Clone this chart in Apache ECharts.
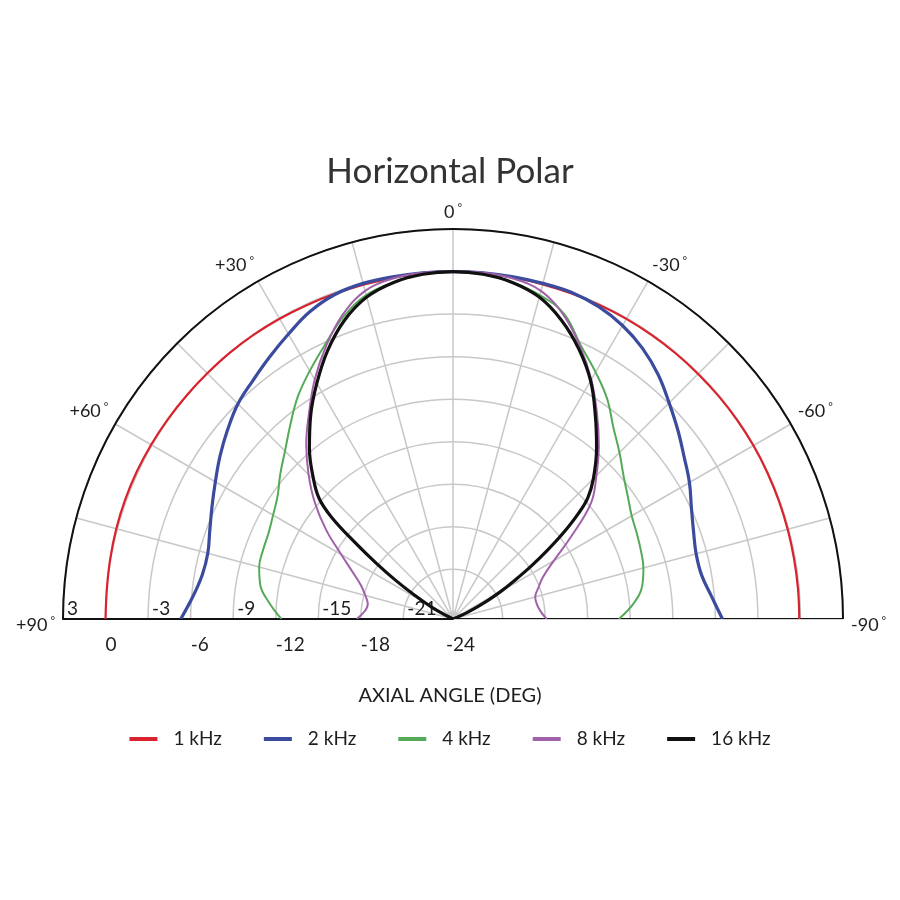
<!DOCTYPE html>
<html><head><meta charset="utf-8">
<script src="https://cdn.jsdelivr.net/npm/echarts@6/dist/echarts.min.js"></script>
<style>html,body{margin:0;padding:0;background:#fff}#c{width:900px;height:900px}</style>
</head><body><div id="c"></div>
<script>
// ---------- data ----------
const TITLE = 'Horizontal Polar';
const AXIS_TITLE = 'AXIAL ANGLE (DEG)';
const SERIES_NAMES = ['1 kHz', '2 kHz', '4 kHz', '8 kHz', '16 kHz'];
const SERIES_COLORS = ['#d8232c', '#3b4b9e', '#55aa58', '#a061a8', '#111111'];
const SERIES_WIDTHS = [2.2, 3.2, 2, 2, 3.2];
const RADIUS_MIN = -24.5, RADIUS_MAX = 3;
const ANGLE_STEP = 15;

// reference angle in degrees (+ = left side, - = right side)
const ANGLES = [90, 85, 80, 75, 70, 65, 60, 55, 50, 45, 40, 35, 30, 25, 20, 15, 10, 5, 0,
  -5, -10, -15, -20, -25, -30, -35, -40, -45, -50, -55, -60, -65, -70, -75, -80, -85, -90];
const DB_1K = [0, 0, 0.04, 0.08, 0.1, 0.1, 0.08, 0.05, 0.02, 0, 0, -0.02, -0.05, -0.08, -0.1, -0.1, -0.07, -0.02, 0,
  -0.02, -0.05, -0.07, -0.07, -0.07, -0.06, -0.06, -0.06, -0.06, -0.05, -0.04, -0.04, -0.05, -0.06, -0.07, -0.08, -0.08, -0.08];
const DB_2K = [-5.3, -6.1, -6.55, -6.6, -6.25, -5.75, -5.15, -4.45, -3.75, -3.05, -2.55, -1.95, -1.3, -0.6, -0.15, 0, 0, 0, 0,
  0, 0, 0, 0, -0.2, -0.6, -1.2, -2.0, -2.95, -3.8, -4.6, -5.25, -5.95, -6.45, -6.75, -6.7, -6.2, -5.5];
const DB_4K = [-12.4, -11.5, -10.7, -10.35, -10.25, -10.15, -9.85, -9.4, -8.6, -7.75, -6.65, -5.4, -4.3, -3.15, -1.85, -0.85, -0.4, -0.1, 0,
  -0.1, -0.4, -0.85, -1.6, -3.2, -4.4, -5.55, -6.9, -7.9, -8.8, -9.45, -9.95, -10.2, -10.4, -10.6, -10.95, -11.7, -12.8];
const DB_8K = [-17.7, -18.25, -18.4, -18.1, -17.6, -16.7, -15.4, -13.6, -11.8, -10.1, -8.4, -6.8, -5.0, -3.3, -1.7, -0.55, -0.12, 0, 0,
  0, -0.12, -0.55, -1.7, -3.3, -5.0, -6.8, -8.5, -10.2, -11.8, -14.3, -16.3, -17.5, -18.1, -18.5, -18.5, -18.3, -17.9];
const ANGLES_16K = [65, 61, 58, 56, 54, 52, 50, 48, 45, 40, 35, 30, 25, 20, 15, 10, 5, 0,
  -5, -10, -15, -20, -25, -30, -35, -40, -45, -48, -50, -52, -54, -56, -58, -60, -62, -65, -68];
const DB_16K = [-24.5, -22.8, -21.2, -19.6, -17.8, -15.7, -13.3, -11.8, -10.6, -8.75, -7.0, -5.3, -3.6, -2.1, -1.0, -0.4, -0.1, 0,
  -0.1, -0.4, -1.0, -2.1, -3.5, -5.1, -7.0, -8.75, -10.5, -11.7, -13.0, -14.6, -16.3, -17.9, -19.4, -20.6, -21.8, -23.3, -24.5];

const SERIES_ANGLES = [ANGLES, ANGLES, ANGLES, ANGLES, ANGLES_16K];
const SERIES_DB = [DB_1K, DB_2K, DB_4K, DB_8K, DB_16K];

// ---------- chart ----------
const FONT = 'Lato';
const TXT = '#1e1e1e';
const chart = echarts.init(document.getElementById('c'), null, {renderer: 'canvas'});

// angle axis runs left (+90) -> right (-90); its value is the negated reference angle
const toAxisAngle = a => -a;

const curveSeries = SERIES_NAMES.map((name, k) => ({
  name: name,
  type: 'line',
  coordinateSystem: 'polar',
  showSymbol: false,
  symbol: 'none',
  smooth: 0.4,
  z: 3,
  lineStyle: {color: SERIES_COLORS[k], width: SERIES_WIDTHS[k]},
  itemStyle: {color: SERIES_COLORS[k]},
  data: SERIES_ANGLES[k].map((a, i) => [SERIES_DB[k][i], toAxisAngle(a)])
}));

const baseline = {
  name: '_baseline',
  type: 'line',
  coordinateSystem: 'polar',
  symbol: 'none',
  z: 2,
  silent: true,
  lineStyle: {color: '#111', width: 2},
  data: [[RADIUS_MAX, toAxisAngle(90)], [RADIUS_MIN, 0], [RADIUS_MAX, toAxisAngle(-90)]]
};

const option = {
  animation: false,
  backgroundColor: '#fff',
  title: [
    {text: TITLE, left: 'center', top: 146,
     textStyle: {fontFamily: FONT, fontSize: 35, fontWeight: 'normal', color: '#333', lineHeight: 42}},
    {text: AXIS_TITLE, left: 'center', top: 679,
     textStyle: {fontFamily: FONT, fontSize: 20, fontWeight: 'normal', color: TXT, lineHeight: 24}}
  ],
  legend: {
    data: SERIES_NAMES,
    left: 'center',
    top: 723,
    icon: 'rect',
    itemWidth: 28,
    itemHeight: 4,
    itemGap: 42,
    textStyle: {fontFamily: FONT, fontSize: 19, color: TXT, padding: [0, 0, 0, 11], lineHeight: 22}
  },
  polar: {center: [453, 619], radius: 390},
  angleAxis: {
    type: 'value',
    min: -90, max: 90, interval: ANGLE_STEP,
    startAngle: 180, endAngle: 0,
    axisLine: {show: true, lineStyle: {color: '#111', width: 2}},
    axisTick: {show: false},
    splitLine: {show: true, lineStyle: {color: '#c8c8c8', width: 1.5}},
    axisLabel: {
      margin: 8,
      fontFamily: FONT, fontSize: 18, color: TXT,
      formatter: v => {
        const a = -v;
        if (a % 30 !== 0) return '';
        const t = a > 0 ? '+' + a : String(a);
        const low = Math.abs(a) === 90;
        return '{' + (low ? 'w' : 'v') + '|' + t + '}{' + (low ? 'e' : 'd') + '|°}';
      },
      rich: {
        v: {fontFamily: FONT, fontSize: 18, color: TXT},
        w: {fontFamily: FONT, fontSize: 18, color: TXT, padding: [12, 0, 0, 0]},
        d: {fontFamily: FONT, fontSize: 11, color: TXT, padding: [0, 0, 7, 3]},
        e: {fontFamily: FONT, fontSize: 11, color: TXT, padding: [12, 0, 7, 3]}
      }
    }
  },
  radiusAxis: {
    type: 'value',
    min: RADIUS_MIN, max: RADIUS_MAX, splitNumber: 9,
    axisLine: {show: true, lineStyle: {color: '#111', width: 2}},
    axisTick: {show: false},
    splitLine: {show: true, lineStyle: {color: '#c8c8c8', width: 1.5}},
    axisLabel: {
      margin: 0,
      align: 'left',
      verticalAlign: 'middle',
      fontFamily: FONT, fontSize: 19, color: TXT,
      formatter: v => {
        if (Math.abs(v % 3) > 1e-6) return '';
        return (Math.abs(v % 6) > 1e-6) ? '{u|' + v + '}' : '{d|' + v + '}';
      },
      rich: {
        u: {fontFamily: FONT, fontSize: 19, color: TXT, padding: [0, 0, 20, 4]},
        d: {fontFamily: FONT, fontSize: 19, color: TXT, padding: [52, 0, 0, 0]}
      }
    }
  },
  series: [baseline].concat(curveSeries)
};
chart.setOption(option);
</script>
</body></html>
